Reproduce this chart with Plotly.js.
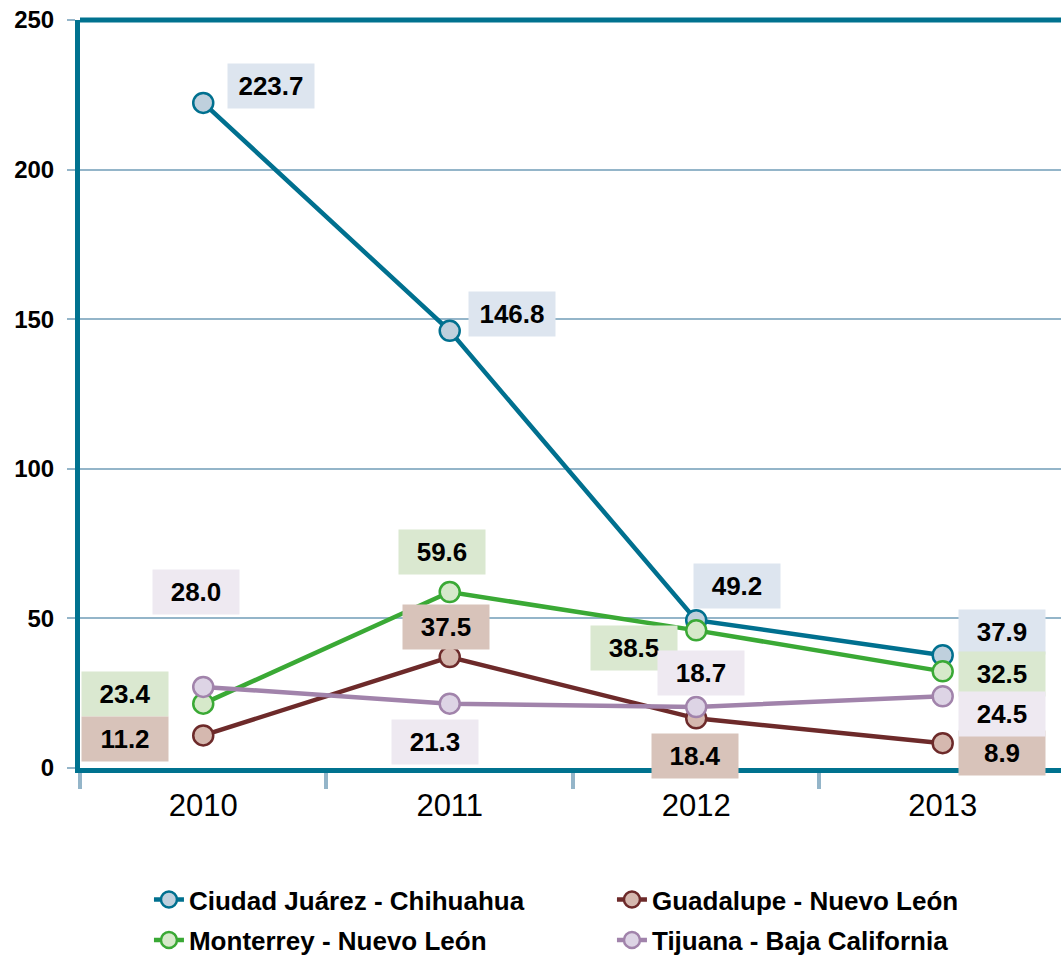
<!DOCTYPE html>
<html>
<head>
<meta charset="utf-8">
<script src="https://cdn.plot.ly/plotly-3.0.1.min.js"></script>
<style>
  html, body { margin: 0; padding: 0; background: #fff; }
  #graph { width: 1061px; height: 957px; }
</style>
</head>
<body>
<div id="graph"></div>
<script>
// Años
const years = ['2010', '2011', '2012', '2013'];

const juarez = [222.3, 146.1, 49.4, 37.7];
const monterrey = [21.5, 58.8, 46.0, 32.3];
const guadalupe = [10.9, 37.1, 16.6, 8.3];
const tijuana = [27.1, 21.5, 20.4, 24.0];

// Etiquetas impresas en el gráfico
const juarezLabels = ['223.7', '146.8', '49.2', '37.9'];
const monterreyLabels = ['23.4', '59.6', '38.5', '32.5'];
const guadalupeLabels = ['11.2', '37.5', '18.4', '8.9'];
const tijuanaLabels = ['28.0', '21.3', '18.7', '24.5'];

const seriesNames = [
    'Ciudad Juárez - Chihuahua',
    'Monterrey - Nuevo León',
    'Guadalupe - Nuevo León',
    'Tijuana - Baja California'
];

const FONT = 'Liberation Sans, Arial, sans-serif';

// Estilo de cada serie
const styles = [
    { line: '#00708f', fill: '#bfd0dd', box: '#dde5ef', legend: 'legend' },
    { line: '#3aa935', fill: '#d6e9ca', box: '#dae8d0', legend: 'legend2' },
    { line: '#6d2a2a', fill: '#d5b8af', box: '#d8c3ba', legend: 'legend' },
    { line: '#a183ab', fill: '#ddd4e5', box: '#eee9f1', legend: 'legend2' }
];

// Desplazamiento de cada etiqueta respecto a su punto (px)
const labelOffsets = [
    [[68, 17], [62, 17], [41, 34], [59, 23]],
    [[-78, 10], [-8, 40], [-62, -18], [59, -3]],
    [[-78, -4], [-4, 30], [-1, -38], [59, -10]],
    [[-7, 95], [-15, -38], [5, 34], [59, -18]]
];

const values = [juarez, monterrey, guadalupe, tijuana];
const labels = [juarezLabels, monterreyLabels, guadalupeLabels, tijuanaLabels];

// orden de dibujo: Juárez, Guadalupe, Monterrey, Tijuana (para la leyenda)
const order = [0, 2, 1, 3];

const traces = order.map(i => ({
    x: years,
    y: values[i],
    type: 'scatter',
    mode: 'lines+markers',
    name: seriesNames[i],
    legend: styles[i].legend,
    line: { color: styles[i].line, width: 4.5 },
    marker: {
        size: 20,
        color: styles[i].fill,
        line: { color: styles[i].line, width: 2.5 }
    },
    cliponaxis: false,
    hoverinfo: 'skip'
}));

// etiquetas de datos (x por índice de categoría)
const annotations = [];
values.forEach((serie, i) => {
    serie.forEach((v, j) => {
        annotations.push({
            x: j,
            y: v,
            xref: 'x',
            yref: 'y',
            text: labels[i][j],
            showarrow: false,
            xshift: labelOffsets[i][j][0],
            yshift: labelOffsets[i][j][1],
            bgcolor: styles[i].box,
            width: 84,
            height: 42,
            font: { family: FONT, size: 26, color: '#000', weight: 'bold' }
        });
    });
});

const legendBase = {
    orientation: 'h',
    xanchor: 'left',
    yanchor: 'middle',
    x: 0.0703,
    entrywidth: 418,
    entrywidthmode: 'pixels',
    bgcolor: 'rgba(0,0,0,0)',
    font: { family: FONT, size: 26, color: '#000', weight: 'bold' }
};

const layout = {
    width: 1061,
    height: 957,
    margin: { l: 80, r: 0, t: 20, b: 189, autoexpand: false },
    paper_bgcolor: '#fff',
    plot_bgcolor: '#fff',
    font: { family: FONT },
    showlegend: true,
    xaxis: {
        type: 'category',
        range: [-0.5, 3.48],
        showgrid: false,
        showline: true,
        linecolor: '#00728f',
        linewidth: 5,
        ticks: 'outside',
        tickson: 'boundaries',
        ticklen: 16,
        tickwidth: 4,
        tickcolor: '#94b5c9',
        ticklabelstandoff: 6,
        tickfont: { family: FONT, size: 31, color: '#000' },
        fixedrange: true
    },
    yaxis: {
        range: [0, 250],
        dtick: 50,
        showgrid: true,
        gridcolor: '#94b5c9',
        gridwidth: 2,
        zeroline: false,
        showline: true,
        linecolor: '#00728f',
        linewidth: 5,
        ticks: 'outside',
        ticklen: 8,
        tickwidth: 2,
        tickcolor: '#94b5c9',
        ticklabelstandoff: 8,
        tickfont: { family: FONT, size: 24, color: '#000', weight: 'bold' },
        fixedrange: true
    },
    // borde superior del área de trazado
    shapes: [{
        type: 'line',
        xref: 'paper', yref: 'paper',
        x0: 0, x1: 1, y0: 1, y1: 1,
        line: { color: '#00728f', width: 5 }
    }],
    legend: Object.assign({}, legendBase, { y: -0.176 }),
    legend2: Object.assign({}, legendBase, { y: -0.23 }),
    annotations: annotations
};

Plotly.newPlot('graph', traces, layout, { displayModeBar: false });
</script>
</body>
</html>
